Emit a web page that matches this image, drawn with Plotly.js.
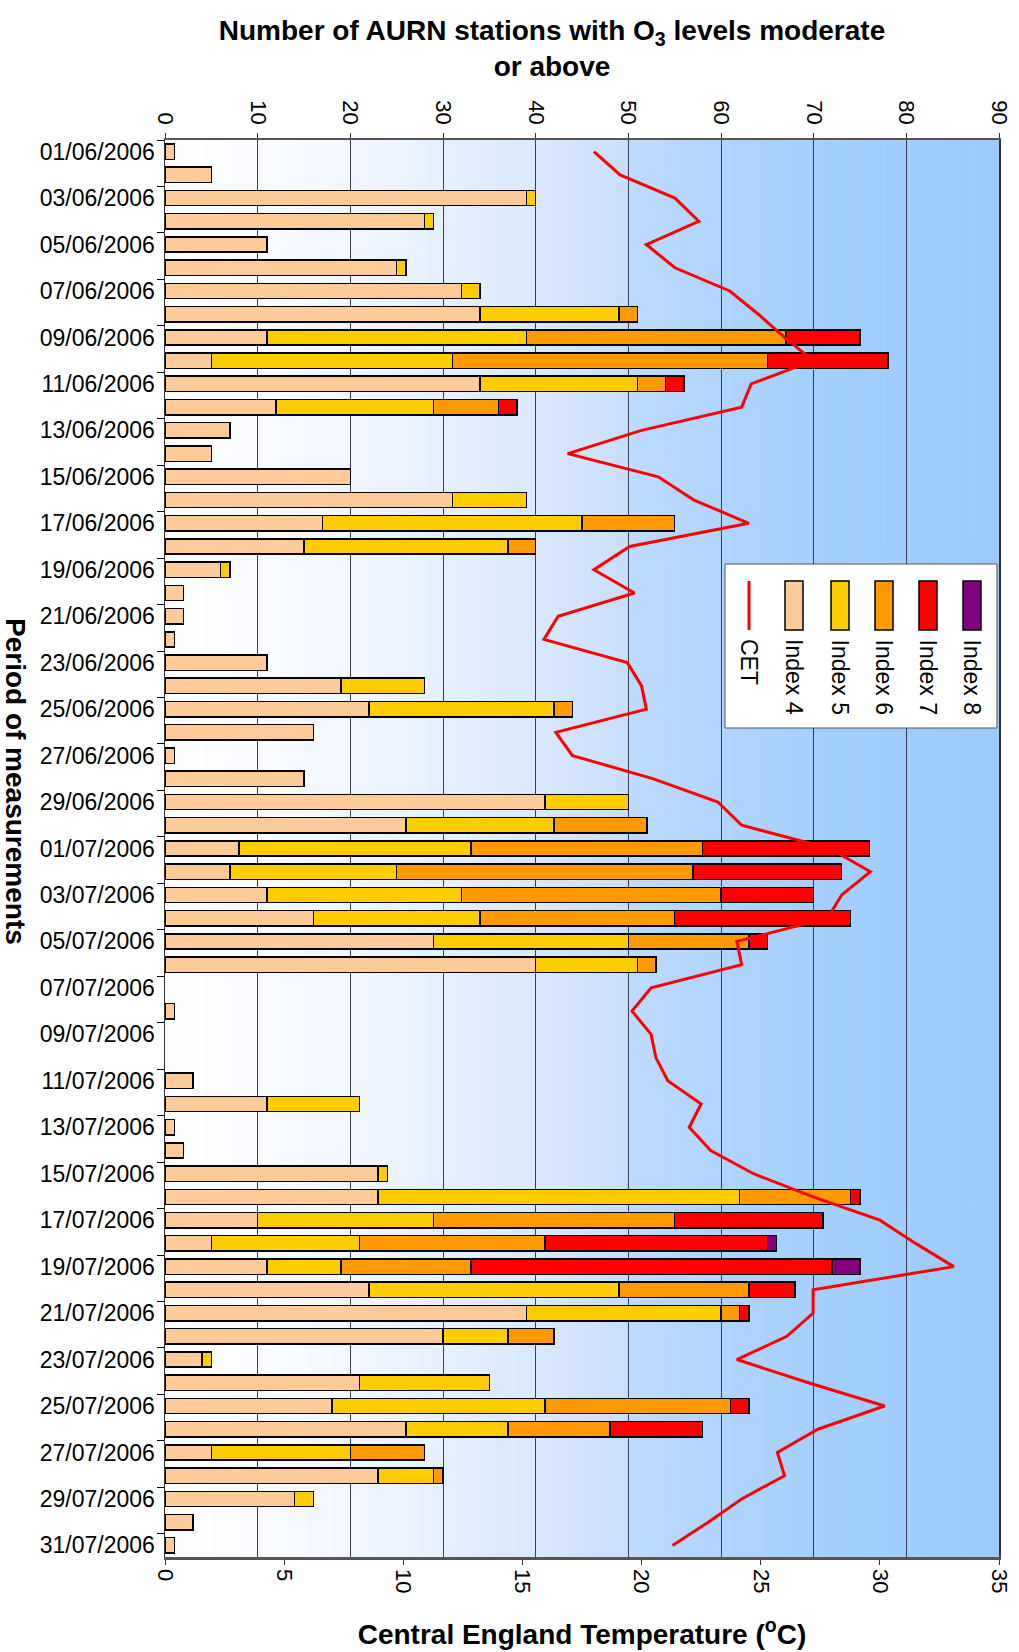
<!DOCTYPE html>
<html><head><meta charset="utf-8">
<script src="https://cdn.plot.ly/plotly-3.0.1.min.js"></script>
<style>html,body{margin:0;padding:0;background:#fff}#chart{width:1019px;height:1652px}</style>
</head><body><div id="chart"></div>
<script>
// ---------------- DATA ----------------
const dates = [
 "01/06/2006","02/06/2006","03/06/2006","04/06/2006","05/06/2006","06/06/2006","07/06/2006","08/06/2006","09/06/2006","10/06/2006",
 "11/06/2006","12/06/2006","13/06/2006","14/06/2006","15/06/2006","16/06/2006","17/06/2006","18/06/2006","19/06/2006","20/06/2006",
 "21/06/2006","22/06/2006","23/06/2006","24/06/2006","25/06/2006","26/06/2006","27/06/2006","28/06/2006","29/06/2006","30/06/2006",
 "01/07/2006","02/07/2006","03/07/2006","04/07/2006","05/07/2006","06/07/2006","07/07/2006","08/07/2006","09/07/2006","10/07/2006",
 "11/07/2006","12/07/2006","13/07/2006","14/07/2006","15/07/2006","16/07/2006","17/07/2006","18/07/2006","19/07/2006","20/07/2006",
 "21/07/2006","22/07/2006","23/07/2006","24/07/2006","25/07/2006","26/07/2006","27/07/2006","28/07/2006","29/07/2006","30/07/2006",
 "31/07/2006"
];
const index4 = [1,5,39,28,11,25,32,34,11,5, 34,12,7,5,20,31,17,15,6,2, 2,1,11,19,22,16,1,15,41,26,
                8,7,11,16,29,40,0,1,0,0, 3,11,1,2,23,23,10,5,11,22, 39,30,4,21,18,26,5,23,14,3, 1];
const index5 = [0,0,1,1,0,1,2,15,28,26, 17,17,0,0,0,8,28,22,1,0, 0,0,0,9,20,0,0,0,9,16,
                25,18,21,18,21,11,0,0,0,0, 0,10,0,0,1,39,19,16,8,27, 21,7,1,14,23,11,15,6,2,0, 0];
const index6 = [0,0,0,0,0,0,0,2,28,34, 3,7,0,0,0,0,10,3,0,0, 0,0,0,0,2,0,0,0,0,10,
                25,32,28,21,13,2,0,0,0,0, 0,0,0,0,0,12,26,20,14,14, 2,5,0,0,20,11,8,1,0,0, 0];
const index7 = [0,0,0,0,0,0,0,0,8,13, 2,2,0,0,0,0,0,0,0,0, 0,0,0,0,0,0,0,0,0,0,
                18,16,10,19,2,0,0,0,0,0, 0,0,0,0,0,1,16,24,39,5, 1,0,0,0,2,10,0,0,0,0, 0];
const index8 = [0,0,0,0,0,0,0,0,0,0, 0,0,0,0,0,0,0,0,0,0, 0,0,0,0,0,0,0,0,0,0,
                0,0,0,0,0,0,0,0,0,0, 0,0,0,0,0,0,0,1,3,0, 0,0,0,0,0,0,0,0,0,0, 0];
const cet = [18.0,19.1,21.4,22.4,20.2,21.4,23.7,24.9,26.0,27.2, 24.6,24.2,20.0,16.9,20.7,22.2,24.5,19.5,18.0,19.7,
             16.5,15.9,19.4,20.0,20.2,16.4,17.1,20.5,23.2,24.2,
             27.9,29.6,28.4,27.8,24.0,24.2,20.4,19.6,20.4,20.6, 21.1,22.5,22.0,22.9,24.7,27.2,30.0,31.5,33.1,27.2,
             27.2,26.1,24.0,27.0,30.2,27.4,25.7,26.0,24.2,22.8, 21.3];
const seriesNames = ["Index 4","Index 5","Index 6","Index 7","Index 8"];
const seriesColors = ["#FFCC99","#FFCC00","#FF9900","#FF0000","#800080"];
const countTicks = [0,10,20,30,40,50,60,70,80,90];
const tempTicks = [0,5,10,15,20,25,30,35];

// ---------------- GEOMETRY ----------------
const W = 1019, H = 1652;
const M = {l:165, r:20, t:140, b:95};
const PW = W - M.l - M.r, PH = H - M.t - M.b;
const px = x => (x - M.l) / PW;
const py = y => 1 - (y - M.t) / PH;
const FONT = "Liberation Sans, Arial, Helvetica, sans-serif";

function gradientURL(){
  const c = document.createElement('canvas'); c.width = 900; c.height = 2;
  const g = c.getContext('2d');
  const lg = g.createLinearGradient(0,0,900,0);
  [[0,'#FFFFFF'],[0.111,'#FAFCFF'],[0.222,'#F2F7FF'],[0.333,'#E6F0FE'],[0.444,'#DAE9FE'],
   [0.553,'#C9DFFB'],[0.556,'#BEDCFE'],[0.667,'#B0D5FE'],[0.778,'#A5D0FD'],[0.889,'#A0CDFC'],[1,'#9BCAFB']]
   .forEach(s => lg.addColorStop(s[0], s[1]));
  g.fillStyle = lg; g.fillRect(0,0,900,2);
  return c.toDataURL();
}

const allSeries = [index4, index5, index6, index7, index8];
const traces = allSeries.map((vals, i) => ({
  type: 'bar', orientation: 'h', name: seriesNames[i],
  y: dates, x: vals.map(v => v === 0 ? null : v),
  xaxis: 'x', yaxis: 'y',
  marker: {color: seriesColors[i], line: {color: '#000', width: 1.5}},
  showlegend: false, hoverinfo: 'x+y+name'
}));
traces.push({
  type: 'scatter', mode: 'lines', name: 'CET', y: dates, x: cet,
  xaxis: 'x2', yaxis: 'y', line: {color: '#FF0000', width: 3}, showlegend: false
});

// ---------------- LEGEND (rotated, drawn manually) ----------------
const shapes = [];
const annotations = [];
shapes.push({type:'rect', xref:'paper', yref:'paper', x0:px(725), x1:px(997), y0:py(728), y1:py(564),
  fillcolor:'#FFFFFF', line:{color:'#555', width:1}, layer:'above'});
shapes.push({type:'line', xref:'paper', yref:'paper', x0:px(749), x1:px(749), y0:py(630), y1:py(581),
  line:{color:'#FF0000', width:3}, layer:'above'});
annotations.push({xref:'paper', yref:'paper', x:px(749), y:py(637), xanchor:'center', yanchor:'top',
  text:'CET', textangle:90, showarrow:false, font:{family:FONT, size:23, color:'#000'}});
const legX = [794, 840, 884, 928, 972];
seriesNames.forEach((n, i) => {
  shapes.push({type:'rect', xref:'paper', yref:'paper', x0:px(legX[i]-9), x1:px(legX[i]+9), y0:py(630), y1:py(581),
    fillcolor:seriesColors[i], line:{color:'#000', width:1.5}, layer:'above'});
  annotations.push({xref:'paper', yref:'paper', x:px(legX[i]), y:py(637), xanchor:'center', yanchor:'top',
    text:n, textangle:90, showarrow:false, font:{family:FONT, size:23, color:'#000'}});
});
// y-axis title (reads top to bottom)
annotations.push({xref:'paper', yref:'paper', x:px(16), y:py(781), xanchor:'center', yanchor:'middle',
  text:'<b>Period of measurements</b>', textangle:90, showarrow:false, font:{family:FONT, size:28, color:'#000'}});

const layout = {
  width: W, height: H, margin: M,
  paper_bgcolor: '#FFFFFF', plot_bgcolor: 'rgba(0,0,0,0)',
  font: {family: FONT, color: '#000'},
  title: {text: '<b>Number of AURN stations with O<sub>3</sub> levels moderate<br>or above</b>',
          font: {family: FONT, size: 28, color: '#000'},
          x: 552 / W, xref: 'container', xanchor: 'center', y: 1 - 40 / H, yref: 'container', yanchor: 'top'},
  barmode: 'stack', bargap: 0.34,
  xaxis: {side: 'top', range: [0, 90], tickvals: countTicks, tickangle: 90,
          tickfont: {size: 22, family: FONT}, ticks: 'outside', ticklen: 5, tickcolor: '#333',
          showgrid: true, gridcolor: '#3c3c50', gridwidth: 1, zeroline: false,
          showline: true, linecolor: '#555', linewidth: 2.5, anchor: 'y', fixedrange: true},
  xaxis2: {side: 'bottom', overlaying: 'x', anchor: 'y', range: [0, 35], tickvals: tempTicks, tickangle: 90,
           tickfont: {size: 22, family: FONT}, ticks: 'outside', ticklen: 5, tickcolor: '#333',
           showgrid: false, zeroline: false, showline: true, linecolor: '#555', linewidth: 2.5,
           title: {text: '<b>Central England Temperature (<sup>o</sup>C)</b>', font: {family: FONT, size: 28, color: '#000'}, standoff: 32}},
  yaxis: {type: 'category', categoryorder: 'array', categoryarray: dates,
          range: [dates.length - 0.5, -0.5], autorange: false,
          tickmode: 'linear', tick0: 0, dtick: 2, tickson: 'boundaries', ticklabelstandoff: 4,
          ticks: 'outside', ticklen: 7, tickcolor: '#000', tickfont: {size: 23, family: FONT},
          showline: true, linecolor: '#333', linewidth: 1.5, mirror: true, showgrid: false, zeroline: false},
  images: [{source: gradientURL(), xref: 'paper', yref: 'paper', x: 0, y: 1, sizex: 1, sizey: 1,
            sizing: 'stretch', xanchor: 'left', yanchor: 'top', layer: 'below'}],
  shapes: shapes, annotations: annotations
};

Plotly.newPlot('chart', traces, layout, {displayModeBar: false, staticPlot: true});
</script>
</body></html>
